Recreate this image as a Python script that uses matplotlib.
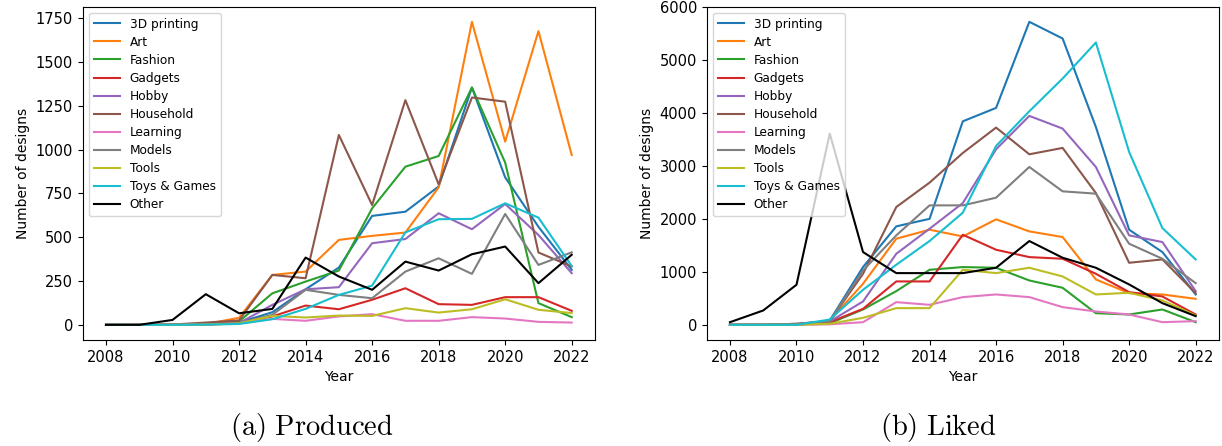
import numpy as np
import matplotlib
matplotlib.use("Agg")
import matplotlib.pyplot as plt

plt.rcParams['mathtext.fontset'] = 'cm'

years = list(range(2008, 2023))
categories = ['3D printing', 'Art', 'Fashion', 'Gadgets', 'Hobby', 'Household',
              'Learning', 'Models', 'Tools', 'Toys & Games', 'Other']
colors = ['tab:blue', 'tab:orange', 'tab:green', 'tab:red', 'tab:purple', 'tab:brown',
          'tab:pink', 'tab:gray', 'tab:olive', 'tab:cyan', 'black']

# designs produced per year
produced_3d = [0, 0, 0, 2, 13, 72, 203, 327, 622, 646, 790, 1355, 842, 560, 314]
produced_art = [0, 0, 0, 5, 40, 285, 304, 485, 508, 527, 785, 1730, 1046, 1677, 970]
produced_fashion = [0, 0, 0, 2, 19, 180, 247, 310, 665, 903, 964, 1355, 926, 124, 44]
produced_gadgets = [0, 0, 0, 2, 13, 48, 110, 89, 143, 209, 118, 114, 158, 158, 80]
produced_hobby = [0, 0, 0, 2, 10, 114, 203, 215, 466, 490, 637, 546, 690, 513, 295]
produced_household = [0, 0, 2, 13, 25, 285, 266, 1084, 684, 1283, 802, 1298, 1274, 413, 333]
produced_learning = [0, 0, 0, 1, 8, 34, 23, 48, 61, 23, 23, 44, 36, 17, 13]
produced_models = [0, 0, 0, 2, 10, 57, 200, 171, 152, 304, 380, 291, 633, 342, 414]
produced_tools = [0, 0, 0, 1, 8, 51, 42, 53, 51, 95, 70, 89, 146, 86, 67]
produced_toys = [0, 0, 0, 1, 5, 32, 91, 171, 224, 528, 603, 605, 694, 612, 336]
produced_other = [0, 0, 28, 175, 66, 91, 384, 276, 200, 361, 310, 403, 447, 238, 400]

# likes per year
liked_3d = [0, 0, 0, 80, 1090, 1858, 2000, 3840, 4093, 5717, 5403, 3734, 1795, 1373, 573]
liked_art = [0, 0, 0, 80, 775, 1625, 1795, 1668, 1990, 1763, 1656, 856, 598, 573, 491]
liked_fashion = [0, 0, 10, 30, 290, 636, 1039, 1090, 1077, 837, 699, 220, 195, 290, 50]
liked_gadgets = [0, 0, 0, 50, 302, 819, 819, 1700, 1417, 1278, 1247, 963, 617, 535, 195]
liked_hobby = [0, 0, 10, 63, 441, 1341, 1813, 2298, 3312, 3942, 3703, 2979, 1688, 1562, 636]
liked_household = [0, 0, 20, 70, 963, 2223, 2683, 3243, 3722, 3218, 3338, 2487, 1171, 1234, 598]
liked_learning = [0, 0, 0, 10, 50, 428, 378, 523, 573, 523, 334, 252, 195, 50, 70]
liked_models = [0, 0, 20, 70, 1026, 1688, 2254, 2254, 2399, 2979, 2519, 2475, 1530, 1247, 787]
liked_tools = [0, 0, 0, 20, 132, 315, 315, 1039, 976, 1077, 913, 573, 605, 460, 176]
liked_toys = [0, 0, 0, 100, 661, 1134, 1581, 2116, 3375, 4030, 4647, 5327, 3262, 1826, 1234]
liked_other = [50, 271, 756, 3608, 1373, 976, 976, 976, 1077, 1581, 1266, 1077, 762, 409, 164]

produced = [produced_3d, produced_art, produced_fashion, produced_gadgets, produced_hobby,
            produced_household, produced_learning, produced_models, produced_tools,
            produced_toys, produced_other]
liked = [liked_3d, liked_art, liked_fashion, liked_gadgets, liked_hobby, liked_household,
         liked_learning, liked_models, liked_tools, liked_toys, liked_other]

fig = plt.figure(figsize=(12.22, 4.46), dpi=100)
ax1 = fig.add_axes([0.0677, 0.2377, 0.4192, 0.7473])
ax2 = fig.add_axes([0.5783, 0.2377, 0.4192, 0.7473])

for ax, series in [(ax1, produced), (ax2, liked)]:
    for name, vals, c in zip(categories, series, colors):
        ax.plot(years, vals, color=c, label=name, lw=1.5)
    ax.set_xticks(range(2008, 2023, 2))
    ax.set_xlabel('Year', fontsize=10)
    ax.set_ylabel('Number of designs', fontsize=10)
    ax.tick_params(labelsize=10.5)
    ax.legend(loc='upper left', fontsize=8.7, handlelength=2.2, labelspacing=0.42)

fig.text(312 / 1222, 1 - 427 / 446, r'$\mathrm{(a)\ Produced}$', fontsize=20.5,
         ha='center', va='center')
fig.text(938 / 1222, 1 - 427 / 446, r'$\mathrm{(b)\ Liked}$', fontsize=20.5,
         ha='center', va='center')

fig.savefig('out.png', dpi=100)
